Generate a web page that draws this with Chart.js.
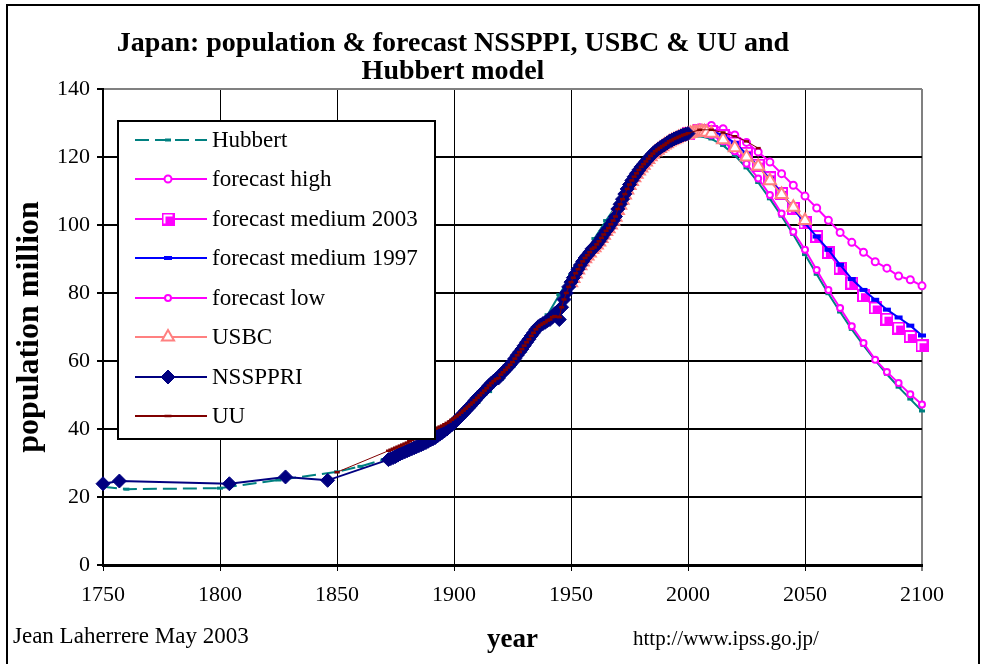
<!DOCTYPE html>
<html>
<head>
<meta charset="utf-8">
<script src="https://cdn.jsdelivr.net/npm/chart.js@4.4.0/dist/chart.umd.min.js"></script>
<style>
  html, body { margin: 0; padding: 0; background: #fff; }
  #wrap { position: relative; width: 982px; height: 664px; }
</style>
</head>
<body>
<div id="wrap"><canvas id="chart" width="982" height="664"></canvas></div>
<script>
const FONT = "'Times New Roman', 'Liberation Serif', serif";

const titleLines = ["Japan: population & forecast NSSPPI, USBC & UU and", "Hubbert model"];
const yTitle = "population million";
const xTitle = "year";
const noteLeft = "Jean Laherrere May 2003";
const noteRight = "http://www.ipss.go.jp/";
const seriesNames = ["Hubbert", "forecast high", "forecast medium 2003", "forecast medium 1997",
  "forecast low", "USBC", "NSSPPRI", "UU"];

// Hubbert model
const hubbertYears = [1750, 1760, 1800, 1825, 1850, 1860, 1870, 1875, 1880, 1885, 1890, 1895, 1900,
  1905, 1910, 1915, 1920, 1925, 1930, 1935, 1940, 1945, 1950, 1955, 1960, 1965, 1970, 1975, 1980,
  1985, 1990, 1995, 2000, 2005, 2010, 2015, 2020, 2025, 2030, 2035, 2040, 2045, 2050, 2055, 2060,
  2065, 2070, 2075, 2080, 2085, 2090, 2095, 2100];
const hubbertValues = [23.0, 22.3, 22.6, 25.0, 27.4, 29.0, 31.0, 32.3, 33.8, 35.4, 37.1, 39.0, 41.2,
  44.6, 47.8, 51.0, 54.6, 58.5, 63.0, 68.0, 73.6, 79.5, 85.2, 90.7, 96.0, 101.3, 106.4, 111.2, 115.6,
  119.4, 122.6, 124.8, 126.0, 126.2, 125.3, 123.4, 120.5, 116.8, 112.5, 107.7, 102.6, 97.2, 91.3,
  85.5, 79.8, 74.4, 69.3, 64.6, 60.2, 56.1, 52.3, 48.8, 45.3];

// forecasts (5-year steps)
const forecastYears = [2000, 2005, 2010, 2015, 2020, 2025, 2030, 2035, 2040, 2045, 2050, 2055, 2060,
  2065, 2070, 2075, 2080, 2085, 2090, 2095, 2100];
const highValues = [126.9, 128.6, 129.3, 128.3, 126.5, 124.3, 121.5, 118.5, 115.1, 111.7, 108.5, 105.0,
  101.4, 97.8, 94.9, 92.0, 89.2, 87.3, 85.0, 83.9, 82.1];
const medium2003Values = [126.9, 127.7, 127.5, 126.3, 124.1, 121.1, 117.6, 113.9, 109.3, 104.9, 100.6,
  96.6, 91.9, 87.3, 82.9, 79.2, 75.6, 72.3, 69.7, 67.2, 64.5];
const lowValues = [126.9, 127.4, 126.5, 124.6, 121.7, 118.0, 113.7, 108.8, 103.4, 98.0, 92.7, 86.8,
  80.9, 75.6, 70.2, 65.3, 60.4, 56.8, 53.5, 50.2, 47.2];
const medium1997Years = [1995, 2000, 2005, 2010, 2015, 2020, 2025, 2030, 2035, 2040, 2045, 2050, 2055,
  2060, 2065, 2070, 2075, 2080, 2085, 2090, 2095, 2100];
const medium1997Values = [125.6, 126.9, 127.7, 127.6, 126.4, 124.1, 120.9, 117.2, 113.6, 109.3, 104.9,
  100.5, 96.6, 92.7, 88.3, 84.1, 80.9, 78.0, 75.1, 72.8, 70.4, 67.5];

// USBC
const usbcYears = [1950, 1951, 1952, 1953, 1954, 1955, 1956, 1957, 1958, 1959,
  1960, 1961, 1962, 1963, 1964, 1965, 1966, 1967, 1968, 1969,
  1970, 1971, 1972, 1973, 1974, 1975, 1976, 1977, 1978, 1979,
  1980, 1981, 1982, 1983, 1984, 1985, 1986, 1987, 1988, 1989,
  1990, 1991, 1992, 1993, 1994, 1995, 1996, 1997, 1998, 1999,
  2000, 2001, 2002, 2003, 2004, 2005, 2006, 2007, 2008,
  2010, 2015, 2020, 2025, 2030, 2035, 2040, 2045, 2050];
const usbcValues = [83.0, 84.3, 85.6, 86.8, 88.0, 89.1, 90.1, 90.9, 91.8, 92.8,
  93.3, 94.1, 95.0, 96.0, 97.0, 98.1, 98.9, 100.0, 101.1, 102.3,
  104.3, 105.8, 107.3, 108.8, 110.3, 111.6, 112.8, 113.9, 114.9, 115.9,
  116.8, 117.6, 118.5, 119.3, 120.1, 120.8, 121.5, 122.0, 122.5, 123.0,
  123.5, 123.9, 124.4, 124.8, 125.1, 125.4, 125.7, 126.0, 126.3, 126.5,
  126.7, 126.9, 127.1, 127.2, 127.3, 127.4, 127.4, 127.4, 127.3,
  127.0, 125.1, 122.7, 120.0, 117.3, 113.0, 109.0, 105.2, 101.3];

// NSSPPRI
const nssYears = [1750, 1757, 1804, 1828, 1846,
  1872, 1873, 1874, 1875, 1876, 1877, 1878, 1879, 1880, 1881, 1882, 1883, 1884, 1885, 1886, 1887, 1888, 1889,
  1890, 1891, 1892, 1893, 1894, 1895, 1896, 1897, 1898, 1899, 1900, 1901, 1902, 1903, 1904, 1905, 1906, 1907,
  1908, 1909, 1910, 1911, 1912, 1913, 1914, 1915, 1916, 1917, 1918, 1919, 1920, 1921, 1922, 1923, 1924, 1925,
  1926, 1927, 1928, 1929, 1930, 1931, 1932, 1933, 1934, 1935, 1936, 1937, 1938, 1939, 1940, 1941, 1942, 1943,
  1944, 1945, 1946, 1947, 1948, 1949, 1950, 1951, 1952, 1953, 1954, 1955, 1956, 1957, 1958, 1959, 1960, 1961,
  1962, 1963, 1964, 1965, 1966, 1967, 1968, 1969, 1970, 1971, 1972, 1973, 1974, 1975, 1976, 1977, 1978, 1979,
  1980, 1981, 1982, 1983, 1984, 1985, 1986, 1987, 1988, 1989, 1990, 1991, 1992, 1993, 1994, 1995, 1996, 1997,
  1998, 1999, 2000];
const nssValues = [23.9, 24.7, 23.9, 25.9, 24.9,
  31.0, 31.3, 31.6, 31.9, 32.3, 32.7, 33.0, 33.3, 33.6, 33.9, 34.2, 34.5, 34.8, 35.1, 35.4, 35.7, 36.0, 36.4,
  36.8, 37.1, 37.5, 38.0, 38.5, 39.0, 39.5, 40.0, 40.6, 41.2, 41.8, 42.5, 43.2, 43.9, 44.6, 45.4, 46.1, 46.8,
  47.6, 48.4, 49.2, 49.9, 50.6, 51.3, 52.0, 52.8, 53.5, 54.1, 54.7, 55.0, 56.0, 56.7, 57.4, 58.1, 58.9, 59.7,
  60.7, 61.7, 62.6, 63.5, 64.5, 65.5, 66.4, 67.4, 68.3, 69.3, 70.1, 70.6, 71.0, 71.4, 71.9, 72.2, 72.9, 73.9,
  74.4, 72.2, 75.8, 78.1, 80.0, 81.8, 83.2, 84.5, 85.8, 87.0, 88.2, 89.3, 90.3, 91.1, 92.0, 93.0, 93.4, 94.3,
  95.2, 96.2, 97.2, 98.3, 99.1, 100.2, 101.3, 102.5, 104.7, 106.1, 107.6, 109.1, 110.6, 111.9, 113.1, 114.2, 115.2, 116.2,
  117.1, 117.9, 118.7, 119.5, 120.3, 121.0, 121.7, 122.2, 122.7, 123.2, 123.6, 124.1, 124.6, 124.9, 125.3, 125.6, 125.9, 126.2,
  126.5, 126.7, 126.9];

// UU
const uuYears = [1850,
  1872, 1873, 1874, 1875, 1876, 1877, 1878, 1879, 1880, 1881, 1882, 1883, 1884, 1885, 1886, 1887, 1888, 1889,
  1890, 1891, 1892, 1893, 1894, 1895, 1896, 1897, 1898, 1899, 1900, 1901, 1902, 1903, 1904, 1905, 1906, 1907,
  1908, 1909, 1910, 1911, 1912, 1913, 1914, 1915, 1916, 1917, 1918, 1919, 1920, 1921, 1922, 1923, 1924, 1925,
  1926, 1927, 1928, 1929, 1930, 1931, 1932, 1933, 1934, 1935, 1936, 1937, 1938, 1939, 1940, 1941, 1942, 1943,
  1944, 1945, 1946, 1947, 1948, 1949, 1950, 1951, 1952, 1953, 1954, 1955, 1956, 1957, 1958, 1959, 1960, 1961,
  1962, 1963, 1964, 1965, 1966, 1967, 1968, 1969, 1970, 1971, 1972, 1973, 1974, 1975, 1976, 1977, 1978, 1979,
  1980, 1981, 1982, 1983, 1984, 1985, 1986, 1987, 1988, 1989, 1990, 1991, 1992, 1993, 1994, 1995, 1996, 1997,
  1998, 1999, 2000, 2005, 2010, 2015, 2020, 2025, 2030];
const uuValues = [27.3,
  33.6, 33.9, 34.2, 34.5, 34.8, 35.1, 35.4, 35.7, 36.0, 36.4, 36.8, 37.1, 37.4, 37.7, 38.0, 38.3, 38.7, 39.1,
  39.5, 39.8, 40.1, 40.4, 40.7, 41.0, 41.4, 41.8, 42.2, 42.7, 43.2, 43.7, 44.2, 44.8, 45.4, 46.0, 46.6, 47.2,
  47.8, 48.5, 49.2, 49.9, 50.6, 51.3, 52.0, 52.8, 53.5, 54.1, 54.7, 55.0, 56.0, 56.7, 57.4, 58.1, 58.9, 59.7,
  60.7, 61.7, 62.6, 63.5, 64.5, 65.5, 66.4, 67.4, 68.3, 69.3, 70.1, 70.6, 71.0, 71.4, 71.9, 72.2, 72.9, 73.2,
  73.0, 72.9, 75.8, 78.1, 80.0, 81.8, 83.2, 84.5, 85.8, 87.0, 88.2, 89.3, 90.3, 91.1, 92.0, 93.0, 93.4, 94.3,
  95.2, 96.2, 97.2, 98.3, 99.1, 100.2, 101.3, 102.5, 104.7, 106.1, 107.6, 109.1, 110.6, 111.9, 113.1, 114.2, 115.2, 116.2,
  117.1, 117.9, 118.7, 119.5, 120.3, 121.0, 121.7, 122.2, 122.7, 123.2, 123.6, 124.1, 124.6, 124.9, 125.3, 125.6, 125.9, 126.2,
  126.5, 126.7, 127.0, 128.0, 128.0, 127.2, 126.1, 124.6, 122.6];

const yearTicks = [1750, 1800, 1850, 1900, 1950, 2000, 2050, 2100];

function pairs(xs, ys) {
    return xs.map((x, i) => ({ x: x, y: ys[i] }));
}

// square marker with the white inner edge seen on the picture
const squareMarker = (() => {
    const c = document.createElement("canvas");
    c.width = 13; c.height = 13;
    const g = c.getContext("2d");
    g.fillStyle = "#ff00ff"; g.fillRect(0, 0, 13, 13);
    g.fillStyle = "#ffffff"; g.fillRect(2, 2, 9, 9);
    g.fillStyle = "#ff00ff"; g.fillRect(4, 4, 7, 7);
    return c;
})();

const hubbertDash = [14, 6];

const datasets = [
    {
        label: seriesNames[0], data: pairs(hubbertYears, hubbertValues),
        borderColor: "#008080", borderWidth: 2,
        pointStyle: "line", pointRadius: 3, pointBorderWidth: 3,
        pointBorderColor: "#008080", pointBackgroundColor: "#008080",
        segment: { borderDash: (c) => (c.p1.parsed.x - c.p0.parsed.x > 6 ? hubbertDash : undefined) },
    },
    {
        label: seriesNames[1], data: pairs(forecastYears, highValues),
        borderColor: "#ff00ff", borderWidth: 2,
        pointStyle: "circle", pointRadius: 3.5, pointBorderWidth: 2,
        pointBorderColor: "#ff00ff", pointBackgroundColor: "#ffffff",
    },
    {
        label: seriesNames[2], data: pairs(forecastYears, medium2003Values),
        borderColor: "#ff00ff", borderWidth: 2,
        pointStyle: squareMarker, pointRadius: 6, pointBorderWidth: 0,
        pointBorderColor: "#ff00ff", pointBackgroundColor: "#ff00ff",
    },
    {
        label: seriesNames[3], data: pairs(medium1997Years, medium1997Values),
        borderColor: "#0000ff", borderWidth: 2,
        pointStyle: "line", pointRadius: 4, pointBorderWidth: 4,
        pointBorderColor: "#0000ff", pointBackgroundColor: "#0000ff",
    },
    {
        label: seriesNames[4], data: pairs(forecastYears, lowValues),
        borderColor: "#ff00ff", borderWidth: 2,
        pointStyle: "circle", pointRadius: 3, pointBorderWidth: 2,
        pointBorderColor: "#ff00ff", pointBackgroundColor: "#ffffff",
    },
    {
        label: seriesNames[5], data: pairs(usbcYears, usbcValues),
        borderColor: "#ff8080", borderWidth: 2,
        pointStyle: "triangle", pointRadius: 7, pointBorderWidth: 2,
        pointBorderColor: "#ff8080", pointBackgroundColor: "#ffffff",
    },
    {
        label: seriesNames[6], data: pairs(nssYears, nssValues),
        borderColor: "#000080", borderWidth: 2,
        pointStyle: "rectRot", pointRadius: 7, pointBorderWidth: 1,
        pointBorderColor: "#000080", pointBackgroundColor: "#000080",
    },
    {
        label: seriesNames[7], data: pairs(uuYears, uuValues),
        borderColor: "#800000", borderWidth: 1,
        pointStyle: "line", pointRadius: 2.5, pointBorderWidth: 2.5,
        pointBorderColor: "#800000", pointBackgroundColor: "#800000",
    },
];
// later series sit on top, like the original spreadsheet
datasets.forEach((d, i) => {
    d.order = datasets.length - 1 - i;
    d.clip = false;
    d.tension = 0;
    d.fill = false;
});

// legend box, outer frame and the two notes at the bottom
const decorPlugin = {
    id: "decor",
    afterDraw(chart) {
        const ctx = chart.ctx;
        ctx.save();
        ctx.strokeStyle = "#000";
        ctx.lineWidth = 2;
        ctx.beginPath();
        ctx.moveTo(7, 670); ctx.lineTo(7, 5); ctx.lineTo(979, 5); ctx.lineTo(979, 670);
        ctx.stroke();

        ctx.fillStyle = "#fff";
        ctx.fillRect(118, 121, 317, 318);
        ctx.strokeRect(118, 121, 317, 318);

        chart.data.datasets.forEach((ds, i) => {
            const y = Math.round(140 + i * 39.43);
            ctx.save();
            ctx.strokeStyle = ds.borderColor;
            ctx.lineWidth = 2;
            ctx.setLineDash(i === 0 ? hubbertDash : []);
            ctx.beginPath(); ctx.moveTo(135, y); ctx.lineTo(207, y); ctx.stroke();
            ctx.setLineDash([]);
            ctx.fillStyle = ds.pointBackgroundColor;
            ctx.strokeStyle = ds.pointBorderColor;
            ctx.lineWidth = ds.pointBorderWidth;
            Chart.helpers.drawPoint(ctx, {
                pointStyle: ds.pointStyle, radius: i === 7 ? 3.5 : ds.pointRadius,
                borderWidth: ds.pointBorderWidth, rotation: 0,
            }, 168, y);
            ctx.restore();
            ctx.fillStyle = "#000";
            ctx.font = "23px " + FONT;
            ctx.textAlign = "left";
            ctx.textBaseline = "middle";
            ctx.fillText(ds.label, 212, y + 1);
        });

        ctx.fillStyle = "#000";
        ctx.textBaseline = "middle";
        ctx.font = "23px " + FONT;
        ctx.fillText(noteLeft, 13, 637);
        ctx.font = "21px " + FONT;
        ctx.fillText(noteRight, 633, 639);
        ctx.restore();
    },
};

const ctx = document.getElementById("chart").getContext("2d");
new Chart(ctx, {
    type: "line",
    data: { datasets: datasets },
    plugins: [decorPlugin],
    options: {
        responsive: false,
        animation: false,
        devicePixelRatio: 1,
        events: [],
        layout: { padding: { left: -16, right: 60, top: 0, bottom: 0 } },
        plugins: {
            legend: { display: false },
            tooltip: { enabled: false },
            title: {
                display: true,
                text: titleLines,
                color: "#000",
                font: { family: FONT, size: 28, weight: "bold", lineHeight: 1.0 },
                padding: { top: 30, bottom: 3 },
            },
        },
        scales: {
            x: {
                type: "linear",
                min: 1750, max: 2100,
                afterBuildTicks: (s) => { s.ticks = yearTicks.map((v) => ({ value: v })); },
                afterFit: (s) => { s.height = 99; },
                ticks: {
                    color: "#000", padding: 11,
                    font: { family: FONT, size: 22 },
                    callback: (v) => String(v),
                    maxRotation: 0,
                },
                grid: {
                    color: (c) => (c.tick && c.tick.value === 2100 ? "#808080" : "#000"),
                    lineWidth: (c) => (c.tick && c.tick.value === 2100 ? 2 : 1),
                    tickColor: "#000", tickLength: 6, tickWidth: 1,
                },
                border: { display: true, color: "#000", width: 3 },
                title: {
                    display: true, text: xTitle, color: "#000",
                    font: { family: FONT, size: 27, weight: "bold" },
                    padding: { top: 0, bottom: 8 },
                },
            },
            y: {
                min: 0, max: 140,
                ticks: { stepSize: 20, color: "#000", padding: 7, font: { family: FONT, size: 22 } },
                afterFit: (s) => { s.width = 119; },
                grid: {
                    color: (c) => (c.tick && c.tick.value === 140 ? "#808080" : "#000"),
                    lineWidth: 2,
                    tickColor: "#000", tickLength: 6, tickWidth: 2,
                },
                border: { display: true, color: "#000", width: 2 },
                title: {
                    display: true, text: yTitle, color: "#000",
                    font: { family: FONT, size: 32, weight: "bold" },
                    padding: { top: 27, bottom: 0 },
                },
            },
        },
    },
});
</script>
</body>
</html>
